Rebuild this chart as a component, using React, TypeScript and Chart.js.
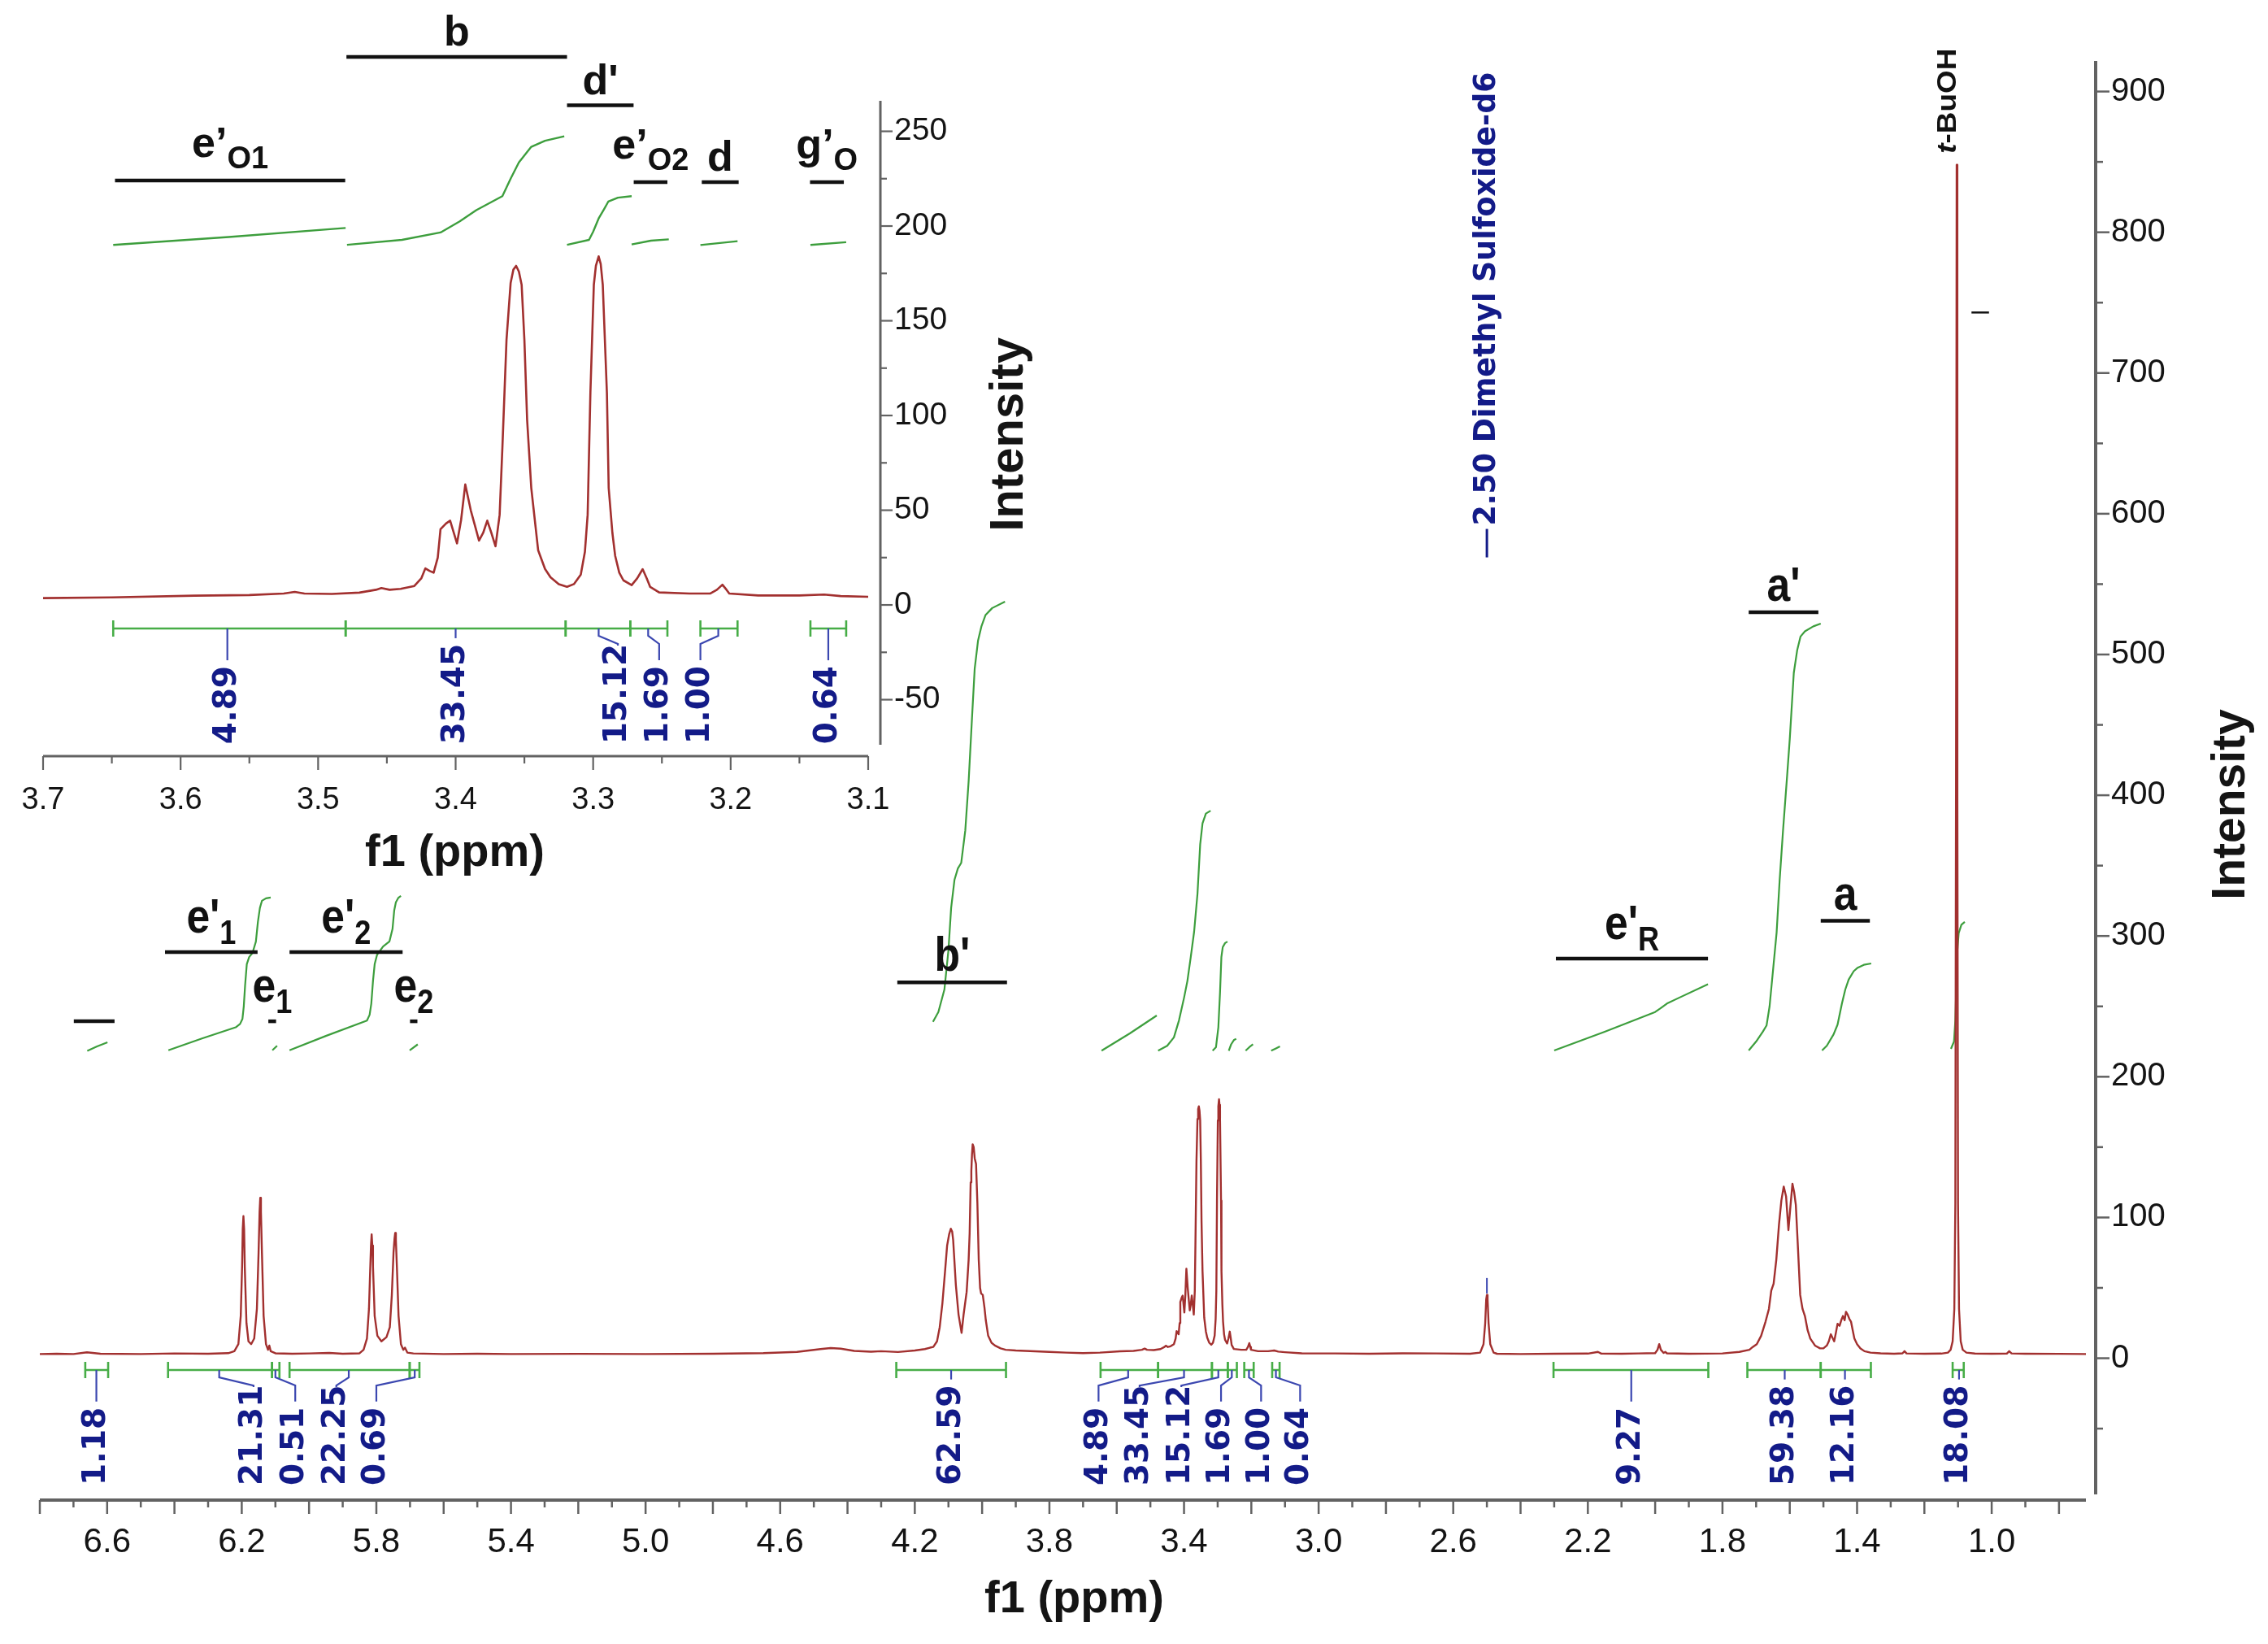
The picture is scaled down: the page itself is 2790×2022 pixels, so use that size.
import React, { useEffect, useRef } from "react";
import { Chart, registerables } from "chart.js";

Chart.register(...registerables);

type Pt = [number, number];

// ================= DATA =================
// 1H NMR spectrum: [ppm, intensity]
const spectrum: Pt[] = [
  [6.80, 3.0], [6.75, 3.2], [6.70, 3.0], [6.66, 4.2], [6.62, 3.2], [6.50, 3.0], [6.40, 3.4], [6.30, 3.2], [6.24, 3.6],
  [6.222, 5], [6.210, 10], [6.203, 30], [6.199, 65], [6.197, 92], [6.195, 101], [6.193, 92], [6.191, 65], [6.186, 25], [6.180, 12], [6.172, 10],
  [6.163, 14], [6.155, 35], [6.150, 75], [6.147, 104], [6.145, 114], [6.143, 104], [6.140, 75], [6.135, 30], [6.128, 10], [6.122, 6], [6.118, 9],
  [6.114, 5], [6.10, 3.5], [6.05, 3.2], [6.00, 3.4], [5.94, 3.8], [5.90, 3.2], [5.85, 3.5],
  [5.838, 6], [5.828, 14], [5.822, 35], [5.818, 65], [5.816, 80], [5.814, 88], [5.812, 80], [5.810, 65], [5.805, 30], [5.797, 16], [5.785, 12],
  [5.770, 15], [5.760, 22], [5.754, 45], [5.749, 75], [5.746, 85], [5.744, 89], [5.742, 84], [5.739, 65], [5.734, 30], [5.727, 10], [5.72, 6],
  [5.715, 7.5], [5.708, 4], [5.69, 3.4], [5.60, 3.0], [5.50, 3.2], [5.40, 3.0], [5.20, 3.1], [5.00, 3.0], [4.80, 3.2],
  [4.65, 3.6], [4.55, 4.5], [4.48, 6.5], [4.45, 7.2], [4.42, 6.8], [4.38, 5.2], [4.33, 4.6], [4.30, 5], [4.25, 4.4],
  [4.20, 5.5], [4.17, 6.5], [4.155, 7.5],
  [4.145, 8], [4.134, 12], [4.126, 22], [4.118, 39], [4.110, 62], [4.104, 80], [4.098, 88], [4.093, 92], [4.089, 90],
  [4.086, 84], [4.078, 52], [4.070, 31], [4.061, 18], [4.055, 31], [4.046, 47], [4.040, 70], [4.037, 89], [4.034, 125],
  [4.032, 133], [4.030, 145], [4.028, 152], [4.025, 150], [4.022, 142], [4.018, 138], [4.014, 110], [4.010, 70],
  [4.006, 50], [4.003, 46], [3.998, 45], [3.993, 36], [3.989, 27], [3.982, 16], [3.972, 11], [3.962, 9], [3.945, 7],
  [3.93, 6], [3.90, 5.5], [3.80, 4.5], [3.75, 4.0],
  [3.70, 3.6], [3.65, 4], [3.59, 4.9], [3.55, 5.2], [3.525, 6], [3.517, 6.9], [3.510, 6], [3.49, 5.8], [3.47, 6.5],
  [3.458, 8], [3.454, 8.9], [3.448, 8], [3.44, 8.5], [3.43, 10], [3.425, 14], [3.422, 19.3], [3.419, 18], [3.416, 17],
  [3.413, 25], [3.411, 40], [3.407, 43], [3.404, 44.5], [3.399, 32.5], [3.396, 45], [3.393, 63.6], [3.389, 50],
  [3.386, 42], [3.383, 34], [3.380, 38], [3.377, 44.5], [3.374, 38], [3.371, 31], [3.368, 47.6], [3.366, 83],
  [3.363, 140], [3.360, 170], [3.358, 177], [3.356, 179], [3.354, 176], [3.352, 169], [3.350, 140], [3.348, 97.6],
  [3.345, 61.8], [3.340, 28.9], [3.335, 19], [3.331, 14.6], [3.325, 11], [3.319, 9.6], [3.314, 11], [3.309, 16],
  [3.306, 28], [3.304, 47.6], [3.302, 112], [3.2995, 169], [3.298, 179], [3.296, 184], [3.2945, 180], [3.293, 169],
  [3.290, 112], [3.2887, 61.8], [3.286, 38], [3.284, 26], [3.281, 17], [3.278, 13], [3.272, 10.5], [3.268, 14],
  [3.264, 18.9], [3.261, 14], [3.2585, 9.5], [3.252, 6.6], [3.23, 6], [3.215, 6], [3.210, 8], [3.206, 10.7],
  [3.203, 8], [3.201, 6], [3.18, 5], [3.15, 5], [3.132, 5.5], [3.12, 4.7], [3.10, 4.3],
  [3.05, 3.5], [2.95, 3.4], [2.85, 3.2], [2.75, 3.5], [2.65, 3.4], [2.55, 3.2], [2.52, 4], [2.51, 10], [2.505, 25],
  [2.502, 42], [2.500, 45], [2.498, 42], [2.495, 25], [2.49, 10], [2.48, 4], [2.47, 3.2], [2.40, 3], [2.30, 3.2],
  [2.20, 3.3], [2.17, 4.5], [2.16, 3.3], [2.10, 3.2], [2.05, 3.4], [2.00, 3.6], [1.993, 6], [1.988, 10], [1.983, 6],
  [1.975, 3.8], [1.970, 4.5], [1.965, 3.5], [1.90, 3.2], [1.80, 3.4], [1.75, 4.5],
  [1.72, 6], [1.71, 8], [1.698, 10], [1.685, 16], [1.672, 26], [1.662, 35], [1.655, 48], [1.648, 53], [1.640, 70],
  [1.632, 95], [1.625, 112], [1.618, 122], [1.611, 115], [1.604, 91], [1.598, 108], [1.592, 124], [1.587, 118],
  [1.582, 109], [1.576, 80], [1.569, 45], [1.562, 35], [1.555, 30], [1.547, 20], [1.539, 14], [1.525, 9], [1.510, 7],
  [1.50, 7], [1.49, 9], [1.484, 12], [1.478, 17], [1.472, 14], [1.468, 12], [1.463, 18], [1.458, 24.5], [1.452, 23],
  [1.447, 27], [1.442, 30], [1.437, 27], [1.433, 33], [1.428, 31], [1.423, 28], [1.418, 26], [1.413, 20], [1.408, 14],
  [1.40, 10], [1.39, 7], [1.378, 5], [1.36, 4], [1.33, 3.5], [1.29, 3.2], [1.265, 3.5], [1.259, 5], [1.253, 3.4],
  [1.20, 3.2], [1.15, 3.3], [1.13, 4],
  [1.122, 6], [1.116, 12], [1.111, 35], [1.108, 110], [1.106, 400], [1.104, 848], [1.102, 400], [1.100, 110],
  [1.097, 35], [1.092, 12], [1.086, 6], [1.075, 4], [1.05, 3.3], [1.00, 3.2], [0.955, 3.3], [0.948, 5], [0.941, 3.4],
  [0.90, 3.2], [0.80, 3.1], [0.72, 3.0],
];

// Integral curves of the main plot: [ppm, level]
const mainIntegralCurves: Pt[][] = [
  [[6.659, 218.4], [6.63, 221.5], [6.599, 224.4]],
  [[6.418, 218.8], [6.32, 227], [6.218, 235.1], [6.205, 237.5], [6.198, 241], [6.194, 250], [6.190, 265], [6.185, 280],
   [6.178, 285], [6.168, 288], [6.158, 296], [6.152, 310], [6.146, 320], [6.140, 325], [6.128, 326.8], [6.114, 327.3]],
  [[6.109, 218.8], [6.095, 222]],
  [[6.058, 218.8], [5.95, 229], [5.828, 239.9], [5.820, 244], [5.815, 252], [5.810, 268], [5.805, 280], [5.798, 286.6],
   [5.78, 292.5], [5.761, 296.2], [5.752, 305], [5.747, 318], [5.742, 324], [5.735, 327], [5.727, 328.5]],
  [[5.701, 218.8], [5.677, 223]],
  [[4.146, 239], [4.13, 246], [4.112, 262], [4.10, 290], [4.092, 320], [4.082, 340], [4.072, 348], [4.062, 352],
   [4.05, 375], [4.04, 410], [4.03, 455], [4.022, 490], [4.012, 510], [4.002, 520], [3.99, 528], [3.97, 533], [3.932, 537.5]],
  [[3.645, 218.5], [3.561, 230.8], [3.481, 243.5]],
  [[3.477, 218.5], [3.45, 222], [3.43, 228], [3.415, 240], [3.40, 256], [3.39, 268], [3.38, 285], [3.37, 303],
   [3.36, 330], [3.352, 365], [3.345, 380], [3.335, 387], [3.321, 389]],
  [[3.315, 218.5], [3.305, 221], [3.298, 235], [3.293, 260], [3.289, 285], [3.285, 292], [3.278, 295], [3.271, 296]],
  [[3.267, 218.5], [3.26, 223], [3.252, 226], [3.245, 227]],
  [[3.217, 218.5], [3.206, 221], [3.195, 223]],
  [[3.141, 218.5], [3.128, 220], [3.115, 221.5]],
  [[2.300, 218.7], [2.15, 232], [2.00, 246], [1.985, 248.5], [1.965, 252], [1.93, 256], [1.843, 265.8]],
  [[1.722, 218.7], [1.70, 225], [1.68, 232], [1.669, 236.4], [1.66, 250], [1.65, 275], [1.639, 302.7], [1.63, 340],
   [1.62, 375], [1.608, 413.4], [1.60, 440], [1.588, 487], [1.578, 503], [1.568, 512.8], [1.555, 516.5], [1.53, 520], [1.508, 522]],
  [[1.504, 218.7], [1.49, 222], [1.47, 230], [1.458, 237], [1.445, 252], [1.435, 262], [1.425, 269], [1.41, 275],
   [1.398, 277.5], [1.38, 279.5], [1.358, 280.5]],
  [[1.121, 219.8], [1.112, 225], [1.108, 240], [1.105, 265], [1.102, 290], [1.098, 302], [1.09, 308], [1.080, 310]],
];

// Integral curves of the inset plot
const insetIntegralCurves: Pt[][] = [
  [[3.649, 190], [3.565, 194.2], [3.480, 199]],
  [[3.479, 190.1], [3.439, 192.7], [3.411, 196.6], [3.397, 202.5], [3.385, 208.4], [3.366, 215.8], [3.36, 225],
   [3.354, 233.6], [3.345, 241.8], [3.335, 245], [3.321, 247.4]],
  [[3.319, 190.1], [3.303, 192.7], [3.30, 197], [3.296, 204], [3.292, 209], [3.289, 212.9], [3.282, 215], [3.272, 215.8]],
  [[3.272, 190.3], [3.258, 192.3], [3.245, 193]],
  [[3.222, 190], [3.195, 192]],
  [[3.142, 190], [3.116, 191.5]],
];

// Integration values (main)
const mainIntegralValues = ["1.18", "21.31", "0.51", "22.25", "0.69", "62.59", "4.89", "33.45", "15.12", "1.69", "1.00", "0.64", "9.27", "59.38", "12.16", "18.08"];
const mainIntegralRanges: Pt[] = [
  [6.665, 6.597], [6.419, 6.110], [6.110, 6.088], [6.058, 5.701], [5.701, 5.672], [4.255, 3.929], [3.648, 3.477],
  [3.477, 3.317], [3.317, 3.270], [3.270, 3.243], [3.221, 3.193], [3.138, 3.116], [2.302, 1.842], [1.726, 1.508],
  [1.508, 1.359], [1.116, 1.083],
];
const mainIntegralAnchors = [6.632, 6.267, 6.100, 5.882, 5.686, 4.092, 3.566, 3.400, 3.298, 3.258, 3.207, 3.127, 2.071, 1.615, 1.436, 1.097];
const mainIntegralLabelPpm = [6.632, 6.165, 6.041, 5.919, 5.800, 4.090, 3.654, 3.532, 3.408, 3.290, 3.171, 3.055, 2.071, 1.615, 1.436, 1.097];

// Integration values (inset)
const insetIntegralValues = ["4.89", "33.45", "15.12", "1.69", "1.00", "0.64"];
const insetIntegralRanges: Pt[] = [[3.649, 3.480], [3.480, 3.320], [3.320, 3.273], [3.273, 3.246], [3.222, 3.195], [3.142, 3.116]];
const insetIntegralAnchors = [3.566, 3.400, 3.296, 3.260, 3.209, 3.129];
const insetIntegralLabelPpm = [3.566, 3.400, 3.282, 3.252, 3.222, 3.129];

// Peak group labels: [text, subscript, fromPpm, toPpm, level]
type Group = [string, string, number, number, number];
const mainGroups: Group[] = [
  ["", "", 6.699, 6.578, 239.4],
  ["e'", "1", 6.428, 6.153, 288.5],
  ["e", "1", 6.121, 6.098, 239.4],
  ["e'", "2", 6.058, 5.722, 288.5],
  ["e", "2", 5.700, 5.678, 239.4],
  ["b'", "", 4.252, 3.926, 267],
  ["e'", "R", 2.295, 1.843, 284],
  ["a'", "", 1.722, 1.515, 530],
  ["a", "", 1.508, 1.362, 310.8],
];
const tBuOHDash: Pt = [1.060, 1.008];
const tBuOHDashLevel = 743;
const insetGroups: Group[] = [
  ["b", "", 3.4794, 3.319, 289.3],
  ["d'", "", 3.319, 3.2706, 263.7],
  ["e\u2019", "O1", 3.6477, 3.4803, 224],
  ["e\u2019", "O2", 3.2705, 3.246, 223.2],
  ["d", "", 3.221, 3.1942, 223.2],
  ["g\u2019", "O", 3.1423, 3.1177, 223.2],
];

// Solvent / reference annotations
const dmsoPpm = 2.50;
const dmsoText = "2.50 Dimethyl Sulfoxide-d6";
const dmsoMarker: Pt = [46, 57];
const dmsoTextLevel = 569;
const tBuOHPpm = 1.104;
const tBuOHLevel = 856;

// Tick labels
const mainXTickLabels = ["6.6", "6.2", "5.8", "5.4", "5.0", "4.6", "4.2", "3.8", "3.4", "3.0", "2.6", "2.2", "1.8", "1.4", "1.0"];
const mainYTickLabels = ["0", "100", "200", "300", "400", "500", "600", "700", "800", "900"];
const insetXTickLabels = ["3.7", "3.6", "3.5", "3.4", "3.3", "3.2", "3.1"];
const insetYTickLabels = ["-50", "0", "50", "100", "150", "200", "250"];

// Axis ranges
const MAIN_X: Pt = [0.72, 6.80];
const MAIN_Y: Pt = [-97.9, 921.7];
const INSET_X: Pt = [3.1, 3.7];
const INSET_Y: Pt = [-73.8, 266.1];
const mainIntegralBarLevel = -8.4;
const mainLabelBottomLevel = -90.4;
const insetIntegralBarLevel = -12.4;
const insetLabelBottomLevel = -73.5;

// ================= STYLE =================
const RED = "#a2302f";
const GREEN = "#3d9e3d";
const BAR_GREEN = "#47ad47";
const NAVY = "#131b88";
const CONNECTOR = "#3b47b0";
const AXIS = "#626262";
const TEXT = "#141414";
const SANS = '"Liberation Sans", Arial, sans-serif';
const DEJAVU = '"DejaVu Sans", Verdana, sans-serif';

function toXY(pts: Pt[]) {
  return pts.map(([x, y]) => ({ x, y }));
}

function vText(ctx: CanvasRenderingContext2D, text: string, x: number, yBottom: number, font: string, color: string, fitLen?: number) {
  ctx.save();
  ctx.font = font;
  const w = ctx.measureText(text).width;
  ctx.translate(x, yBottom);
  ctx.rotate(-Math.PI / 2);
  if (fitLen) ctx.scale(fitLen / w, 1);
  ctx.fillStyle = color;
  ctx.textAlign = "left";
  ctx.textBaseline = "middle";
  ctx.fillText(text, 0, 0);
  ctx.restore();
  return fitLen || w;
}

function vTitle(ctx: CanvasRenderingContext2D, text: string, cx: number, cy: number, font: string) {
  ctx.save();
  ctx.translate(cx, cy);
  ctx.rotate(-Math.PI / 2);
  ctx.font = font;
  ctx.fillStyle = TEXT;
  ctx.textAlign = "center";
  ctx.textBaseline = "middle";
  ctx.fillText(text, 0, 0);
  ctx.restore();
}

type LabelOpts = { mainFont: string; subFont: string; sx: number; gap: number; subGap: number; subDrop: number; lw: number };

function drawGroup(ctx: CanvasRenderingContext2D, g: Group, X: (v: number) => number, Y: (v: number) => number, o: LabelOpts) {
  const [main, sub, from, to, level] = g;
  const x1 = X(from), x2 = X(to), y = Y(level);
  ctx.save();
  ctx.strokeStyle = "#111";
  ctx.lineWidth = o.lw;
  ctx.beginPath();
  ctx.moveTo(Math.min(x1, x2), y);
  ctx.lineTo(Math.max(x1, x2), y);
  ctx.stroke();
  if (main) {
    const cx = (x1 + x2) / 2;
    ctx.fillStyle = "#111";
    ctx.textAlign = "left";
    ctx.textBaseline = "alphabetic";
    ctx.font = o.mainFont;
    const w1 = ctx.measureText(main).width * o.sx;
    ctx.font = o.subFont;
    const w2 = sub ? ctx.measureText(sub).width * o.sx : 0;
    const x0 = cx - (w1 + w2) / 2;
    const subBase = y - o.subGap;
    const mainBase = sub ? subBase - o.subDrop : y - o.gap;
    ctx.save();
    ctx.translate(x0, mainBase);
    ctx.scale(o.sx, 1);
    ctx.font = o.mainFont;
    ctx.fillText(main, 0, 0);
    ctx.restore();
    if (sub) {
      ctx.save();
      ctx.translate(x0 + w1, subBase);
      ctx.scale(o.sx, 1);
      ctx.font = o.subFont;
      ctx.fillText(sub, 0, 0);
      ctx.restore();
    }
  }
  ctx.restore();
}

function drawIntegrals(
  ctx: CanvasRenderingContext2D, X: (v: number) => number, Y: (v: number) => number,
  values: string[], ranges: Pt[], anchors: number[], labelPpm: number[], barLevel: number, bottomLevel: number,
) {
  const barY = Y(barLevel);
  const bottom = Y(bottomLevel);
  const font = `bold 39px ${DEJAVU}`;
  ctx.save();
  ctx.strokeStyle = BAR_GREEN;
  ctx.lineWidth = 2.6;
  ranges.forEach(([a, b]) => {
    const xa = X(a), xb = X(b);
    ctx.beginPath();
    ctx.moveTo(xa, barY); ctx.lineTo(xb, barY);
    ctx.moveTo(xa, barY - 10); ctx.lineTo(xa, barY + 10);
    ctx.moveTo(xb, barY - 10); ctx.lineTo(xb, barY + 10);
    ctx.stroke();
  });
  values.forEach((v, i) => {
    ctx.font = font;
    const w = ctx.measureText(v).width;
    const lx = X(labelPpm[i]);
    const ax = X(anchors[i]);
    const top = bottom - w - 7;
    ctx.strokeStyle = CONNECTOR;
    ctx.lineWidth = 2.2;
    ctx.beginPath();
    ctx.moveTo(ax, barY);
    if (Math.abs(ax - lx) < 2) {
      ctx.lineTo(ax, top);
    } else {
      ctx.lineTo(ax, barY + 9);
      ctx.lineTo(lx, barY + 19);
      ctx.lineTo(lx, Math.max(barY + 21, top));
    }
    ctx.stroke();
    vText(ctx, v, lx, bottom, font, NAVY);
  });
  ctx.restore();
}

// ================= PLUGINS =================
const mainOverlay = {
  id: "mainOverlay",
  afterDraw(chart: any) {
    const ctx: CanvasRenderingContext2D = chart.ctx;
    const xs = chart.scales.x, ys = chart.scales.y;
    const X = (v: number) => xs.getPixelForValue(v);
    const Y = (v: number) => ys.getPixelForValue(v);
    const area = chart.chartArea;
    ctx.save();

    // ---- x axis ----
    const axY = area.bottom + 5;
    ctx.strokeStyle = AXIS;
    ctx.lineWidth = 4;
    ctx.beginPath();
    ctx.moveTo(area.left, axY); ctx.lineTo(area.right, axY);
    ctx.stroke();
    ctx.lineWidth = 2.5;
    for (let k = 8; k <= 68; k++) {
      const p = k / 10;
      if (p < MAIN_X[0] || p > MAIN_X[1]) continue;
      const len = k % 2 === 0 ? 17 : 9;
      ctx.beginPath();
      ctx.moveTo(X(p), axY); ctx.lineTo(X(p), axY + len);
      ctx.stroke();
    }
    ctx.fillStyle = TEXT;
    ctx.font = `42px ${SANS}`;
    ctx.textAlign = "center";
    ctx.textBaseline = "middle";
    mainXTickLabels.forEach((t) => ctx.fillText(t, X(parseFloat(t)), axY + 52));
    ctx.font = `bold 56px ${SANS}`;
    ctx.fillText("f1 (ppm)", (area.left + area.right) / 2 + 14, axY + 123);

    // ---- y axis (right) ----
    const axX = area.right + 12;
    ctx.strokeStyle = AXIS;
    ctx.lineWidth = 4;
    ctx.beginPath();
    ctx.moveTo(axX, area.top); ctx.lineTo(axX, area.bottom - 2);
    ctx.stroke();
    ctx.lineWidth = 2.5;
    for (let v = -50; v <= 900; v += 50) {
      const len = v % 100 === 0 ? 17 : 9;
      ctx.beginPath();
      ctx.moveTo(axX, Y(v)); ctx.lineTo(axX + len, Y(v));
      ctx.stroke();
    }
    ctx.font = `40px ${SANS}`;
    ctx.textAlign = "left";
    ctx.textBaseline = "middle";
    ctx.fillStyle = TEXT;
    mainYTickLabels.forEach((t) => ctx.fillText(t, axX + 19, Y(parseFloat(t))));
    vTitle(ctx, "Intensity", axX + 167, (area.top + area.bottom) / 2 + 32, `bold 57px ${SANS}`);

    // ---- integrals ----
    drawIntegrals(ctx, X, Y, mainIntegralValues, mainIntegralRanges, mainIntegralAnchors, mainIntegralLabelPpm, mainIntegralBarLevel, mainLabelBottomLevel);

    // ---- group labels ----
    const o: LabelOpts = { mainFont: `bold 60px ${SANS}`, subFont: `bold 42px ${SANS}`, sx: 0.86, gap: 14, subGap: 10, subDrop: 14, lw: 4.5 };
    mainGroups.forEach((g) => drawGroup(ctx, g, X, Y, o));
    ctx.strokeStyle = "#111";
    ctx.lineWidth = 2.5;
    ctx.beginPath();
    ctx.moveTo(X(tBuOHDash[0]), Y(tBuOHDashLevel)); ctx.lineTo(X(tBuOHDash[1]), Y(tBuOHDashLevel));
    ctx.stroke();

    // ---- DMSO annotation ----
    const dx = X(dmsoPpm);
    ctx.strokeStyle = CONNECTOR;
    ctx.lineWidth = 2;
    ctx.beginPath();
    ctx.moveTo(dx, Y(dmsoMarker[0])); ctx.lineTo(dx, Y(dmsoMarker[1]));
    ctx.stroke();
    const dy = Y(dmsoTextLevel);
    ctx.strokeStyle = NAVY;
    ctx.lineWidth = 3;
    ctx.beginPath();
    ctx.moveTo(dx, dy); ctx.lineTo(dx, dy - 35);
    ctx.stroke();
    vText(ctx, dmsoText, dx, dy - 39, `bold 38px ${DEJAVU}`, NAVY, 558);

    // ---- t-BuOH label ----
    const tx = X(tBuOHPpm) - 10;
    const ty = Y(tBuOHLevel);
    ctx.save();
    ctx.translate(tx, ty);
    ctx.rotate(-Math.PI / 2);
    ctx.fillStyle = "#111";
    ctx.textBaseline = "middle";
    ctx.textAlign = "left";
    ctx.font = `italic bold 34px ${SANS}`;
    const w1 = ctx.measureText("t").width;
    ctx.font = `bold 34px ${SANS}`;
    const w2 = ctx.measureText("-BuOH").width;
    const s = 129 / (w1 + w2);
    ctx.scale(s, 1);
    ctx.font = `italic bold 34px ${SANS}`;
    ctx.fillText("t", 0, 0);
    ctx.font = `bold 34px ${SANS}`;
    ctx.fillText("-BuOH", w1, 0);
    ctx.restore();

    ctx.restore();
  },
};

const insetOverlay = {
  id: "insetOverlay",
  afterDraw(chart: any) {
    const ctx: CanvasRenderingContext2D = chart.ctx;
    const xs = chart.scales.x, ys = chart.scales.y;
    const X = (v: number) => xs.getPixelForValue(v);
    const Y = (v: number) => ys.getPixelForValue(v);
    const area = chart.chartArea;
    ctx.save();

    // x axis
    const axY = area.bottom + 14;
    ctx.strokeStyle = AXIS;
    ctx.lineWidth = 3;
    ctx.beginPath();
    ctx.moveTo(area.left, axY); ctx.lineTo(area.right, axY);
    ctx.stroke();
    ctx.lineWidth = 2.2;
    for (let j = 62; j <= 74; j++) {
      const p = j / 20;
      const len = j % 2 === 0 ? 17 : 9;
      ctx.beginPath();
      ctx.moveTo(X(p), axY); ctx.lineTo(X(p), axY + len);
      ctx.stroke();
    }
    ctx.fillStyle = TEXT;
    ctx.font = `38px ${SANS}`;
    ctx.textAlign = "center";
    ctx.textBaseline = "middle";
    insetXTickLabels.forEach((t) => ctx.fillText(t, X(parseFloat(t)), axY + 55));
    ctx.font = `bold 56px ${SANS}`;
    ctx.fillText("f1 (ppm)", (area.left + area.right) / 2 - 1, axY + 120);

    // y axis
    const axX = area.right + 15;
    ctx.strokeStyle = AXIS;
    ctx.lineWidth = 3;
    ctx.beginPath();
    ctx.moveTo(axX, area.top); ctx.lineTo(axX, area.bottom);
    ctx.stroke();
    ctx.lineWidth = 2.2;
    for (let v = -50; v <= 250; v += 25) {
      const len = v % 50 === 0 ? 15 : 8;
      ctx.beginPath();
      ctx.moveTo(axX, Y(v)); ctx.lineTo(axX + len, Y(v));
      ctx.stroke();
    }
    ctx.font = `39px ${SANS}`;
    ctx.textAlign = "left";
    ctx.textBaseline = "middle";
    ctx.fillStyle = TEXT;
    insetYTickLabels.forEach((t) => ctx.fillText(t, axX + 17, Y(parseFloat(t))));
    vTitle(ctx, "Intensity", axX + 159, Y(90), `bold 58px ${SANS}`);

    drawIntegrals(ctx, X, Y, insetIntegralValues, insetIntegralRanges, insetIntegralAnchors, insetIntegralLabelPpm, insetIntegralBarLevel, insetLabelBottomLevel);

    const o: LabelOpts = { mainFont: `bold 52px ${SANS}`, subFont: `bold 38px ${SANS}`, sx: 1, gap: 14, subGap: 15, subDrop: 14, lw: 4.5 };
    insetGroups.forEach((g) => drawGroup(ctx, g, X, Y, o));
    ctx.restore();
  },
};

function lineDs(pts: Pt[], color: string, width: number) {
  return {
    data: toXY(pts),
    borderColor: color,
    borderWidth: width,
    pointRadius: 0,
    fill: false,
    tension: 0,
    borderJoinStyle: "round" as const,
  };
}

export default function App() {
  const mainRef = useRef<HTMLCanvasElement>(null);
  const insetRef = useRef<HTMLCanvasElement>(null);

  useEffect(() => {
    const main = new Chart(mainRef.current!, {
      type: "line",
      data: {
        datasets: [
          lineDs(spectrum, RED, 2.4),
          ...mainIntegralCurves.map((c) => lineDs(c, GREEN, 2.2)),
        ],
      },
      options: {
        responsive: false,
        animation: false,
        devicePixelRatio: 1,
        events: [],
        layout: { padding: { left: 49, right: 224, top: 75, bottom: 182 } },
        plugins: { legend: { display: false }, tooltip: { enabled: false } },
        scales: {
          x: { type: "linear", min: MAIN_X[0], max: MAIN_X[1], reverse: true, display: false },
          y: { type: "linear", min: MAIN_Y[0], max: MAIN_Y[1], display: false },
        },
      },
      plugins: [mainOverlay],
    } as any);

    const inset = new Chart(insetRef.current!, {
      type: "line",
      data: {
        datasets: [
          lineDs(spectrum, RED, 2.6),
          ...insetIntegralCurves.map((c) => lineDs(c, GREEN, 2.4)),
        ],
      },
      options: {
        responsive: false,
        animation: false,
        devicePixelRatio: 1,
        events: [],
        layout: { padding: { left: 53, right: 232, top: 124, bottom: 184 } },
        plugins: { legend: { display: false }, tooltip: { enabled: false } },
        scales: {
          x: { type: "linear", min: INSET_X[0], max: INSET_X[1], reverse: true, display: false },
          y: { type: "linear", min: INSET_Y[0], max: INSET_Y[1], display: false },
        },
      },
      plugins: [insetOverlay],
    } as any);

    return () => {
      main.destroy();
      inset.destroy();
    };
  }, []);

  return (
    <div style={{ position: "absolute", left: 0, top: 0, width: 2790, height: 2022, background: "#fff", overflow: "hidden" }}>
      <canvas ref={mainRef} width={2790} height={2022} style={{ position: "absolute", left: 0, top: 0, width: 2790, height: 2022 }} />
      <canvas ref={insetRef} width={1300} height={1100} style={{ position: "absolute", left: 0, top: 0, width: 1300, height: 1100 }} />
    </div>
  );
}
